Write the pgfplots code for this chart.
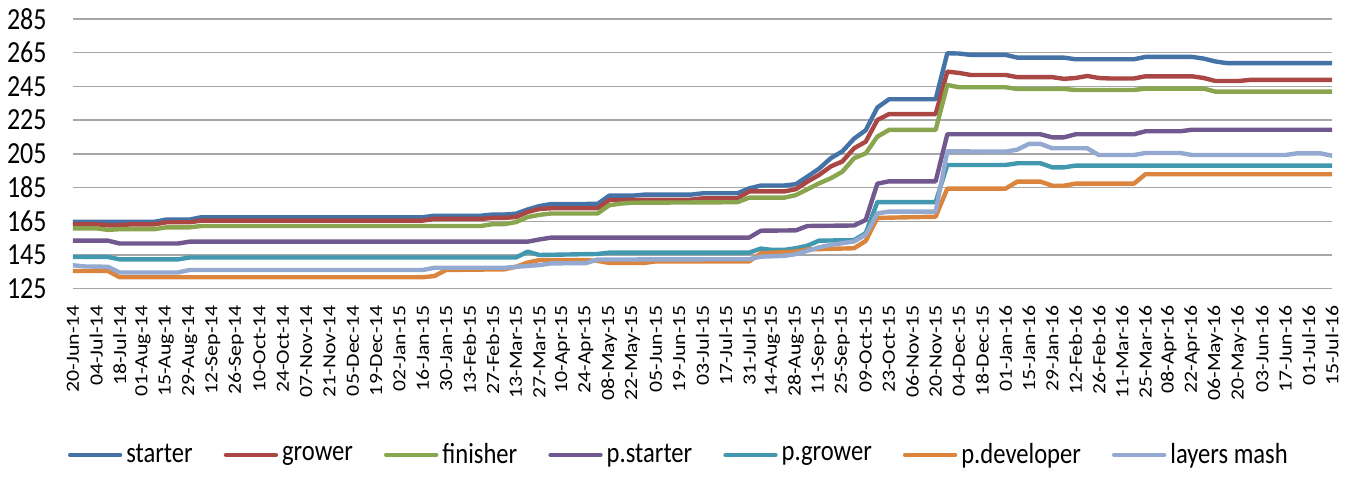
\documentclass[border=0pt]{standalone}
\usepackage{pgfplots}
\pgfplotsset{compat=1.18}
\usepackage{fontspec}
\setmainfont{Carlito}
\definecolor{cStarter}{HTML}{4572A7}
\definecolor{cGrower}{HTML}{AA4643}
\definecolor{cFinisher}{HTML}{89A54E}
\definecolor{cPStarter}{HTML}{71588F}
\definecolor{cPGrower}{HTML}{4198AF}
\definecolor{cPDev}{HTML}{DB843D}
\definecolor{cLayers}{HTML}{93A9CF}
\newcommand{\tall}[1]{\scalebox{1}[1.18]{#1}}
\begin{document}
\begin{tikzpicture}
\useasboundingbox (-36.5pt,-104.15pt) rectangle (643pt,144.35pt);
\begin{axis}[
  at={(0,0)}, anchor=south west,
  width=629.5pt, height=134.85pt, scale only axis,
  xmin=0, xmax=108, ymin=125, ymax=285,
  ytick={125,145,...,285},
  xtick={0,2,...,108},
  xticklabels={20-Jun-14,04-Jul-14,18-Jul-14,01-Aug-14,15-Aug-14,29-Aug-14,12-Sep-14,26-Sep-14,10-Oct-14,24-Oct-14,07-Nov-14,21-Nov-14,05-Dec-14,19-Dec-14,02-Jan-15,16-Jan-15,30-Jan-15,13-Feb-15,27-Feb-15,13-Mar-15,27-Mar-15,10-Apr-15,24-Apr-15,08-May-15,22-May-15,05-Jun-15,19-Jun-15,03-Jul-15,17-Jul-15,31-Jul-15,14-Aug-15,28-Aug-15,11-Sep-15,25-Sep-15,09-Oct-15,23-Oct-15,06-Nov-15,20-Nov-15,04-Dec-15,18-Dec-15,01-Jan-16,15-Jan-16,29-Jan-16,12-Feb-16,26-Feb-16,11-Mar-16,25-Mar-16,08-Apr-16,22-Apr-16,06-May-16,20-May-16,03-Jun-16,17-Jun-16,01-Jul-16,15-Jul-16},
  ymajorgrids,
  grid style={draw=black!35, line width=0.75pt},
  axis line style={draw=none},
  major tick length=0pt,
  tick style={draw=none},
  /pgf/number format/assume math mode=true,
  yticklabel style={font=\fontsize{13}{13}\selectfont, inner sep=0pt, yscale=1.18},
  yticklabel shift=13pt,
  xticklabel style={font=\fontsize{9.3}{9.3}\selectfont, rotate=90, xscale=1.17, anchor=east, inner sep=0pt},
  xticklabel shift=8pt,
  legend columns=7,
  legend style={draw=none, fill=none, at={(0.482,-0.6166)}, anchor=center,
    font=\fontsize{12.3}{13}\selectfont,
    /tikz/every even column/.append style={column sep=13.5pt}},
  legend image code/.code={\draw[#1] (0pt,0pt) -- (25pt,0pt);},
  every axis plot/.append style={line width=2.2pt, line join=round, line cap=round, mark=none},
]
\addplot[cStarter] coordinates {(0,164.7)(7,164.7)(8,166)(10,166)(11,167.4)(30,167.4)(31,168.3)(35,168.3)(36,169)(37,169)(38,169.5)(39,172)(40,174)(41,175.2)(45,175.3)(46,180.2)(48,180.2)(49,180.8)(53,180.8)(54,181.6)(57,181.6)(58,184.5)(59,186.2)(61,186.2)(62,187)(63,191.5)(64,196.2)(65,202.4)(66,206.5)(67,214)(68,219)(69,232.5)(70,237.4)(74,237.4)(75,264.7)(76,264.5)(77,263.7)(80,263.7)(81,262.1)(85,262.1)(86,261.1)(91,261.1)(92,262.5)(96,262.5)(97,261.5)(98,259.8)(99,258.8)(108,258.8)};
\addlegendentry{\tall{starter}}
\addplot[cGrower] coordinates {(0,163.2)(2,163.2)(3,162.6)(4,162.6)(5,163.2)(7,163.2)(8,164.4)(10,164.4)(11,165.4)(30,165.4)(31,166.4)(35,166.4)(36,167)(37,167)(38,167.5)(39,170.5)(40,172.3)(41,172.7)(45,172.7)(46,177.6)(53,177.8)(54,178.6)(57,178.6)(58,182.7)(61,182.7)(62,184)(63,188.5)(64,192.5)(65,197.5)(66,200.5)(67,208.3)(68,212.2)(69,225.1)(70,228.6)(74,228.6)(75,253.8)(76,253)(77,251.8)(80,251.8)(81,250.5)(84,250.5)(85,249.5)(86,250)(87,251.2)(88,250)(89,249.7)(91,249.7)(92,251)(96,251)(97,250)(98,248.2)(100,248.2)(101,248.9)(108,248.9)};
\addlegendentry{\tall{grower}}
\addplot[cFinisher] coordinates {(0,160.8)(2,160.8)(3,159.9)(4,160.3)(7,160.3)(8,161.4)(10,161.4)(11,162.2)(35,162.2)(36,163.3)(37,163.3)(38,164.5)(39,167.5)(40,168.8)(41,169.6)(45,169.6)(46,174.5)(47,175.5)(48,176)(57,176.3)(58,179)(61,179)(62,180.5)(63,184)(64,187.5)(65,190.5)(66,194.4)(67,202.4)(68,205.3)(69,215.2)(70,219.2)(74,219.2)(75,245.9)(76,244.5)(80,244.5)(81,243.5)(85,243.5)(86,242.9)(91,242.9)(92,243.7)(97,243.7)(98,241.9)(108,241.9)};
\addlegendentry{\tall{finisher}}
\addplot[cPStarter] coordinates {(0,153.5)(3,153.5)(4,151.8)(9,151.8)(10,152.9)(39,152.9)(40,154.2)(41,155.3)(58,155.3)(59,159.4)(62,159.6)(63,162.2)(67,162.5)(68,165.8)(69,187.3)(70,188.7)(74,188.7)(75,216.6)(83,216.6)(84,214.8)(85,214.8)(86,216.6)(91,216.6)(92,218.4)(95,218.4)(96,219.3)(108,219.3)};
\addlegendentry{\tall{p.starter}}
\addplot[cPGrower] coordinates {(0,143.8)(3,143.8)(4,142.4)(9,142.4)(10,143.5)(38,143.5)(39,147)(40,145)(45,145.6)(46,146.4)(58,146.4)(59,148.8)(60,148)(61,148)(62,149)(63,150.5)(64,153.5)(67,153.8)(68,158)(69,176.4)(74,176.4)(75,198.4)(80,198.4)(81,199.4)(83,199.4)(84,197)(85,197)(86,198)(108,198)};
\addlegendentry{\tall{p.grower}}
\addplot[cPDev] coordinates {(0,135.5)(3,135.5)(4,131.8)(30,131.8)(31,132.5)(32,136.1)(37,136.5)(38,138)(39,140.5)(40,142)(44,142)(45,141.5)(46,140.3)(49,140.3)(50,141.2)(58,141.2)(59,146)(62,147)(63,148.3)(67,149)(68,153.3)(69,167)(74,167.7)(75,184.4)(80,184.4)(81,188.5)(83,188.5)(84,186.1)(85,186.1)(86,187.3)(91,187.3)(92,192.9)(108,192.9)};
\addlegendentry{\tall{p.developer}}
\addplot[cLayers] coordinates {(0,138.9)(1,138.2)(3,138)(4,134.6)(9,134.6)(10,136.1)(30,136.1)(31,137.4)(37,137.4)(38,138)(40,139)(41,140)(44,140.2)(45,142.3)(58,142.5)(59,144)(61,144.5)(62,145.5)(63,147.5)(64,149.5)(65,151)(66,152)(67,153)(68,157)(69,169.7)(70,170.7)(74,170.7)(75,206.5)(80,206.3)(81,207.5)(82,210.9)(83,210.9)(84,208.3)(87,208.3)(88,204.3)(91,204.3)(92,205.5)(95,205.5)(96,204.3)(104,204.3)(105,205.3)(107,205.3)(108,203.9)};
\addlegendentry{\tall{layers mash}}
\end{axis}
\end{tikzpicture}
\end{document}
